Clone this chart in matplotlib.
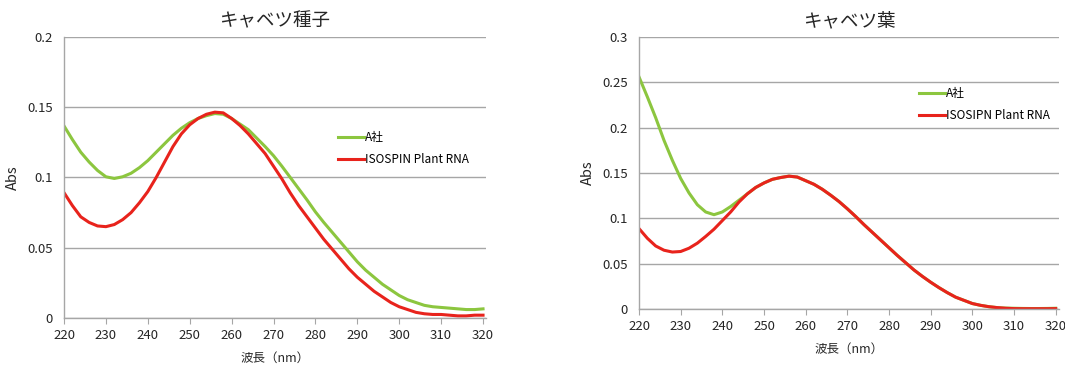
import numpy as np
import matplotlib.pyplot as plt
import matplotlib.ticker as ticker

plt.rcParams['font.family'] = ['Noto Sans CJK JP', 'DejaVu Sans']

# 波長 (nm)
wl = np.arange(220, 322, 2)

# キャベツ種子
seed_a = [0.1367, 0.127, 0.118, 0.111, 0.105, 0.1005, 0.0993, 0.1005, 0.103, 0.107,
          0.112, 0.118, 0.124, 0.130, 0.135, 0.139, 0.142, 0.144, 0.1455, 0.145,
          0.142, 0.138, 0.134, 0.128, 0.122, 0.1155, 0.108, 0.100, 0.092, 0.084,
          0.0755, 0.068, 0.061, 0.054, 0.047, 0.040, 0.034, 0.029, 0.024, 0.020,
          0.016, 0.013, 0.011, 0.009, 0.008, 0.0075, 0.007, 0.0065, 0.006, 0.006,
          0.0065]
seed_iso = [0.0892, 0.080, 0.072, 0.068, 0.0655, 0.065, 0.0665, 0.070, 0.075, 0.082,
            0.090, 0.100, 0.111, 0.122, 0.131, 0.1375, 0.142, 0.145, 0.1465, 0.146,
            0.142, 0.137, 0.131, 0.124, 0.117, 0.108, 0.099, 0.089, 0.080, 0.072,
            0.064, 0.056, 0.049, 0.042, 0.035, 0.029, 0.024, 0.019, 0.015, 0.011,
            0.008, 0.006, 0.004, 0.003, 0.0025, 0.0025, 0.002, 0.0015, 0.0015, 0.002,
            0.002]

# キャベツ葉
leaf_a = [0.256, 0.234, 0.211, 0.186, 0.164, 0.144, 0.128, 0.115, 0.107, 0.104,
          0.107, 0.113, 0.120, 0.127, 0.134, 0.139, 0.143, 0.145, 0.1465, 0.1455,
          0.1415, 0.1375, 0.132, 0.1255, 0.1185, 0.1105, 0.102, 0.093, 0.0845, 0.076,
          0.0675, 0.059, 0.051, 0.043, 0.036, 0.0295, 0.0235, 0.018, 0.013, 0.0095,
          0.006, 0.004, 0.0025, 0.0015, 0.001, 0.0008, 0.0006, 0.0005, 0.0005, 0.0006,
          0.0008]
leaf_iso = [0.0887, 0.078, 0.0695, 0.0648, 0.0628, 0.0634, 0.067, 0.0726, 0.080, 0.088,
            0.0975, 0.107, 0.118, 0.127, 0.134, 0.139, 0.143, 0.145, 0.1465, 0.1455,
            0.1415, 0.1375, 0.132, 0.1255, 0.1185, 0.1105, 0.102, 0.093, 0.0845, 0.076,
            0.0675, 0.059, 0.051, 0.043, 0.036, 0.0295, 0.0235, 0.018, 0.013, 0.0095,
            0.006, 0.004, 0.0025, 0.0015, 0.0008, 0.0004, 0.0003, 0.0003, 0.0003, 0.0003,
            0.0004]

green = '#8cc63f'
red = '#e8231c'
gridc = '#a6a6a6'
textc = '#262626'

fig = plt.figure(figsize=(10.65, 3.72), dpi=100)
ax1 = fig.add_axes([0.0601, 0.1452, 0.3962, 0.7554])
ax2 = fig.add_axes([0.6000, 0.1694, 0.3940, 0.7312])


def style(ax, ymax, ystep, title, leg_pos):
    ax.set_xlim(220, 320.7)
    ax.set_ylim(0, ymax)
    ax.set_xticks(np.arange(220, 321, 10))
    ax.set_yticks(np.arange(0, ymax + 1e-9, ystep))
    ax.yaxis.set_major_formatter(ticker.FuncFormatter(lambda v, p: f'{v:g}'))
    ax.grid(axis='y', color=gridc, lw=1)
    ax.set_axisbelow(True)
    for s in ['top', 'right']:
        ax.spines[s].set_visible(False)
    for s in ['left', 'bottom']:
        ax.spines[s].set_color(gridc)
        ax.spines[s].set_linewidth(1)
    ax.tick_params(axis='y', length=0, labelsize=9.5, colors=textc, pad=8)
    ax.tick_params(axis='x', length=4, color=gridc, labelsize=9.5, labelcolor=textc, pad=4)
    ax.set_title(title, fontsize=13.3, color=textc, pad=8)
    ax.set_xlabel('波長（nm）', fontsize=9, color=textc, labelpad=7)
    ax.set_ylabel('Abs', fontsize=10.5, color=textc, labelpad=5)
    ax.legend(frameon=False, loc='upper left', bbox_to_anchor=leg_pos,
              fontsize=8.5, handlelength=2.2, handletextpad=0.1,
              borderpad=0, borderaxespad=0, labelspacing=0.75)


ax1.plot(wl, seed_a, color=green, lw=2.2, label='A社')
ax1.plot(wl, seed_iso, color=red, lw=2.2, label='ISOSPIN Plant RNA')
style(ax1, 0.2, 0.05, 'キャベツ種子', (0.649, 0.665))

ax2.plot(wl, leaf_a, color=green, lw=2.2, label='A社')
ax2.plot(wl, leaf_iso, color=red, lw=2.2, label='ISOSIPN Plant RNA')
style(ax2, 0.3, 0.05, 'キャベツ葉', (0.668, 0.815))

fig.savefig('out.png', dpi=100)
